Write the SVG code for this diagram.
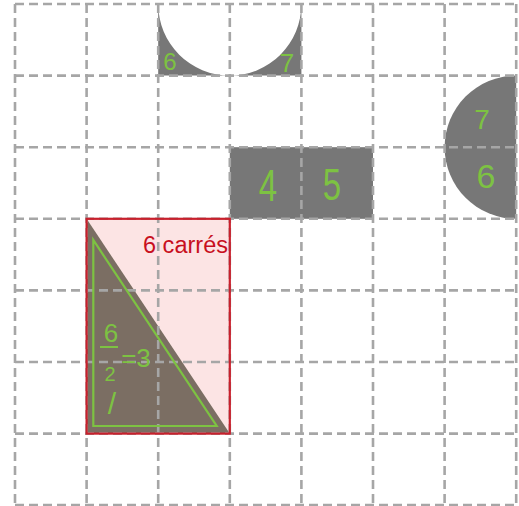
<svg xmlns="http://www.w3.org/2000/svg" width="519" height="506" viewBox="0 0 519 506">
<style>
.grid{stroke:#a6a6a6;stroke-width:2.6;stroke-dasharray:9 5;fill:none}
.gray{fill:#777777}
.g{fill:#7dc242;font-family:"Liberation Sans",sans-serif;text-anchor:middle}
.r{fill:#c8101e;font-family:"Liberation Sans",sans-serif}
</style>
<rect width="519" height="506" fill="#ffffff"/>
<g id="shapes">
<path id="topcut" class="gray" d="M158.2,4 A71.6,71.6 0 0 0 229.8,75.6 A71.6,71.6 0 0 0 301.4,4 L301.4,75.6 L158.2,75.6 Z"/>
<path id="halfdisc" class="gray" d="M516.2,75.6 A71.6,71.6 0 0 0 516.2,218.8 Z"/>
<rect id="rect45" class="gray" x="229.8" y="147.2" width="143.2" height="71.6"/>
<rect id="pinkrect" x="86.6" y="218.8" width="143.2" height="214.8" fill="#fce4e4"/>
<path id="triangle" d="M86.6,218.8 L86.6,433.6 L229.8,433.6 Z" fill="#7b6e63"/>
</g>
<g id="grid" class="grid">
<path d="M15,4V506M86.6,4V506M158.2,4V506M229.8,4V506M301.4,4V506M373,4V506M444.6,4V506M516.2,4V506"/>
<path d="M15,4H517M15,75.6H517M15,147.2H517M15,218.8H517M15,290.4H517M15,362H517M15,433.6H517M15,505H517"/>
</g>
<g id="outlines">
<rect x="86.6" y="218.8" width="143.2" height="214.8" fill="none" stroke="#c8202c" stroke-width="2.2"/>
<path d="M93.3,240 L93.3,426 L216.7,426 Z" fill="none" stroke="#7dc242" stroke-width="2.2"/>
<path d="M100,347 L118,347" stroke="#7dc242" stroke-width="2"/>
</g>
<g id="labels">
<text class="g" x="170" y="70" font-size="24">6</text>
<text class="g" x="287" y="72" font-size="26">7</text>
<text class="g" x="482" y="129" font-size="28">7</text>
<text class="g" x="486" y="188" font-size="34">6</text>
<text class="g" x="268" y="201" font-size="44" transform="translate(268,0) scale(0.75,1) translate(-268,0)">4</text>
<text class="g" x="332" y="200" font-size="44" transform="translate(332,0) scale(0.75,1) translate(-332,0)">5</text>
<text class="r" x="143" y="253" font-size="23" textLength="85" lengthAdjust="spacingAndGlyphs">6 carrés</text>
<text class="g" x="111" y="342" font-size="26">6</text>
<text class="g" x="110" y="381" font-size="20">2</text>
<text class="g" x="136" y="367" font-size="26">=3</text>
<text class="g" x="112" y="414" font-size="30">/</text>
</g>
</svg>
